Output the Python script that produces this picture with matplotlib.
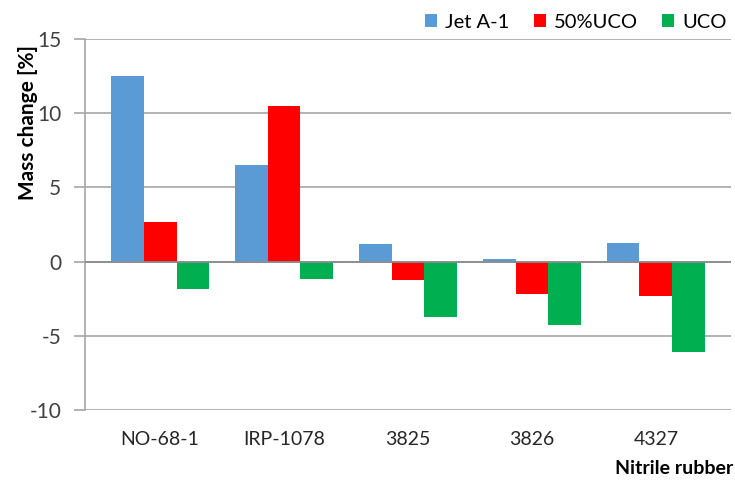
import numpy as np
import matplotlib.pyplot as plt

# data
categories = ['NO-68-1', 'IRP-1078', '3825', '3826', '4327']
jet_a1 = [12.5, 6.5, 1.2, 0.18, 1.27]
uco_50 = [2.7, 10.5, -1.25, -2.2, -2.35]
uco = [-1.88, -1.2, -3.72, -4.27, -6.09]
series_names = ['Jet A-1', '50%UCO', 'UCO']
colors = ['#5B9BD5', '#FF0000', '#00B050']

plt.rcParams['font.family'] = ['Lato', 'DejaVu Sans']
plt.rcParams['axes.unicode_minus'] = False

fig = plt.figure(figsize=(7.35, 4.82), dpi=100)
ax = fig.add_axes([85/735, 1-410/482, (731-85)/735, (410-39)/482])

x = np.arange(len(categories))
w = 0.266
for i, (vals, name, c) in enumerate(zip([jet_a1, uco_50, uco], series_names, colors)):
    ax.bar(x + (i-1)*w, vals, w, color=c, label=name, zorder=3)

ax.set_xlim(-0.605, 4.605)
ax.set_ylim(-10, 15)
ax.set_yticks([-10, -5, 0, 5, 10, 15])
ax.yaxis.grid(True, color='#A6A6A6', linewidth=1.2, zorder=0)
ax.axhline(0, color='#8C8C8C', linewidth=1.3, zorder=4)

for s in ['top', 'right', 'bottom']:
    ax.spines[s].set_visible(False)
ax.spines['left'].set_color('#A6A6A6')
ax.spines['left'].set_linewidth(1.2)

ax.tick_params(axis='y', length=8, color='#A6A6A6', width=1.2, labelsize=15, labelcolor='#404040', pad=9)
ax.set_xticks(x)
ax.set_xticklabels(categories, fontsize=14, color='#262626')
ax.tick_params(axis='x', length=0, pad=15)

fig.text(28/735, 1-122/482, 'Mass change [%]', rotation=90, ha='center', va='center',
         fontsize=15, fontweight='bold')
fig.text(733/735, 1-468/482, 'Nitrile rubber', ha='right', va='center',
         fontsize=14, fontweight='bold')

ax.legend(loc='center right', bbox_to_anchor=(735/735, 1-22/482), bbox_transform=fig.transFigure,
          ncol=3, frameon=False, fontsize=14.5, handlelength=0.6, handleheight=0.6,
          handletextpad=0.4, columnspacing=1.2, borderaxespad=0)

fig.savefig('out.png', dpi=100)
